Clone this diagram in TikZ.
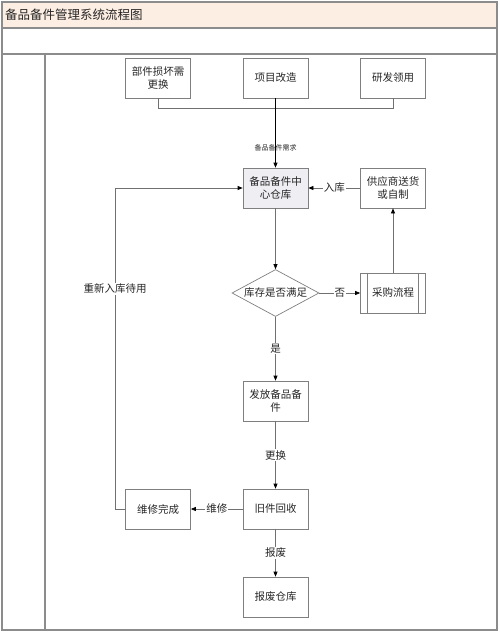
\documentclass[tikz,border=0pt]{standalone}
\usepackage{fontspec}
\setmainfont{Noto Sans CJK SC}
\usetikzlibrary{shapes.geometric,arrows.meta}
\definecolor{framec}{HTML}{8C8C8C}
\definecolor{titlefill}{HTML}{FDEEE3}
\definecolor{whfill}{HTML}{EEEEF3}
\definecolor{boxline}{HTML}{7F7F7F}
\definecolor{linec}{HTML}{707070}
\definecolor{txtc}{HTML}{262626}
\begin{document}
\begin{tikzpicture}[x=1pt,y=-1pt,
  procbox/.style={draw=boxline,line width=0.7pt,minimum width=65pt,minimum height=40pt,
    inner sep=1pt,align=center,text=txtc,font=\fontsize{10.5}{13.5}\selectfont},
  decbox/.style={diamond,draw=boxline,line width=0.7pt,minimum width=87pt,minimum height=47pt,
    aspect=1.85,inner sep=0pt,text=txtc,font=\fontsize{10.5}{13.5}\selectfont},
  conn/.style={draw=linec,line width=0.7pt},
  arr/.style={conn,-{Triangle[length=5pt,width=4pt,color=black]}},
  lbl/.style={fill=white,inner sep=1pt,text=txtc,font=\fontsize{10.5}{12}\selectfont},
  framel/.style={draw=framec,line width=1.2pt}
]
\useasboundingbox (0,0) rectangle (500,632);
% frame
\fill[titlefill] (2,2) rectangle (497,28);
\draw[framel] (2,2) rectangle (497,630);
\draw[framel] (2,28) -- (497,28);
\draw[framel] (2,54) -- (497,54);
\draw[framel] (45,54) -- (45,630);
\node[anchor=west,inner sep=0pt,text=txtc,font=\fontsize{12.5}{14}\selectfont] (title) at (5,15) {备品备件管理系统流程图};

% nodes
\node[procbox] (b1) at (158,78) {部件损坏需\\更换};
\node[procbox] (b2) at (275.5,78) {项目改造};
\node[procbox] (b3) at (393,78) {研发领用};
\node[procbox,fill=whfill] (wh) at (275.5,188) {备品备件中\\心仓库};
\node[procbox] (sup) at (393,188) {供应商送货\\或自制};
\node[decbox] (dec) at (275.5,293) {库存是否满足};
\node[procbox] (pur) at (393,293) {采购流程};
\draw[draw=boxline,line width=0.7pt] ([xshift=7.5pt]pur.north west) -- ([xshift=7.5pt]pur.south west);
\draw[draw=boxline,line width=0.7pt] ([xshift=-7.5pt]pur.north east) -- ([xshift=-7.5pt]pur.south east);
\node[procbox] (rel) at (275.5,401) {发放备品备\\件};
\node[procbox] (old) at (275.5,509) {旧件回收};
\node[procbox] (rep) at (158,509) {维修完成};
\node[procbox] (scr) at (275.5,597) {报废仓库};

% connectors
\coordinate (m1) at (158,108);
\coordinate (m3) at (393,108);
\draw[conn] (b1.south) -- (m1) -- (m3) -- (b3.south);
\draw[arr,draw=black,line width=0.8pt] (b2.south) -- (wh.north);
\node[inner sep=0pt,text=txtc,font=\fontsize{7}{8}\selectfont] (need) at (275.5,148) {备品备件需求};

\draw[arr] (sup.west) -- node[lbl] (l1) {入库} (wh.east);
\draw[arr] (wh.south) -- (dec.north);
\draw[arr] (dec.east) -- node[lbl] (l2) {否} (pur.west);
\draw[arr] (pur.north) -- (sup.south);
\draw[arr] (dec.south) -- node[lbl] (l3) {是} (rel.north);
\draw[arr] (rel.south) -- node[lbl] (l4) {更换} (old.north);
\draw[arr] (old.west) -- node[lbl] (l5) {维修} (rep.east);
\draw[arr] (old.south) -- node[lbl] (l6) {报废} (scr.north);
\coordinate (lp) at (115,509);
\draw[arr] (rep.west) -- (lp) |- (wh.west);
\node[lbl] (l7) at (115,289) {重新入库待用};
\end{tikzpicture}
\end{document}
